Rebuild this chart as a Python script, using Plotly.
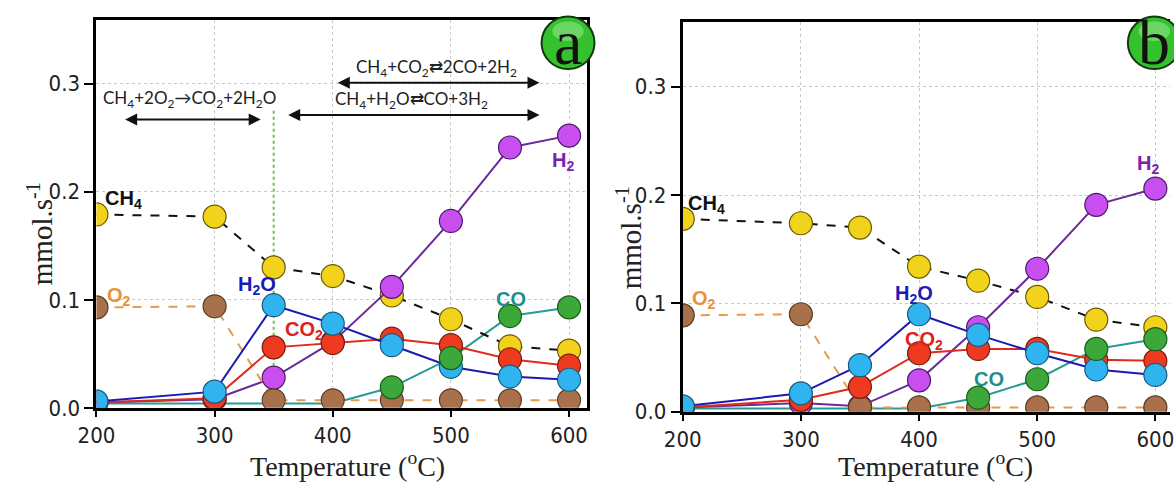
import plotly.graph_objects as go

W, H = 1174, 489

temps = [200, 300, 350, 400, 450, 500, 550, 600]

# Panel (a)
ch4_a = [0.179, 0.177, 0.130, 0.122, 0.104, 0.082, 0.057, 0.053]
o2_a = [0.093, 0.094, 0.007, 0.007, 0.007, 0.007, 0.007, 0.007]
h2o_a = [0.006, 0.015, 0.095, 0.078, 0.058, 0.038, 0.029, 0.026]
co2_a = [0.005, 0.009, 0.056, 0.060, 0.064, 0.058, 0.045, 0.039]
h2_a = [0.005, 0.008, 0.028, 0.061, 0.112, 0.173, 0.241, 0.252]
co_a = [0.004, 0.004, 0.004, 0.004, 0.019, 0.046, 0.085, 0.093]

# Panel (b)
ch4_b = [0.178, 0.174, 0.170, 0.134, 0.121, 0.106, 0.085, 0.078]
o2_b = [0.089, 0.090, 0.004, 0.004, 0.004, 0.004, 0.004, 0.004]
h2o_b = [0.005, 0.017, 0.043, 0.090, 0.071, 0.054, 0.039, 0.034]
co2_b = [0.004, 0.011, 0.023, 0.054, 0.058, 0.058, 0.048, 0.047]
h2_b = [0.004, 0.008, 0.005, 0.029, 0.078, 0.132, 0.191, 0.206]
co_b = [0.003, 0.003, 0.003, 0.003, 0.013, 0.030, 0.058, 0.067]

x_ticks = [200, 300, 400, 500, 600]
y_ticks = [0.0, 0.1, 0.2, 0.3]

def px(x):
    return x / W

def py(y):
    return 1 - y / H

fig = go.Figure()

MS = 23
styles = {
    "CH4": dict(line=dict(color="#111111", width=2, dash="dash"), marker=dict(color="#f2d31b", size=MS, line=dict(color="#6b5a00", width=1.2))),
    "H2": dict(line=dict(color="#6a2a9c", width=2), marker=dict(color="#c84ef0", size=MS, line=dict(color="#4a1a6a", width=1.2))),
    "O2": dict(line=dict(color="#e89a4c", width=2, dash="dash"), marker=dict(color="#a8714c", size=MS, line=dict(color="#5a3a20", width=1.2))),
    "CO2": dict(line=dict(color="#e02a1a", width=2), marker=dict(color="#ee3a1e", size=MS, line=dict(color="#7a1a10", width=1.2))),
    "H2O": dict(line=dict(color="#1c1ab0", width=2), marker=dict(color="#2fb4f0", size=MS, line=dict(color="#1a5a80", width=1.2))),
    "CO": dict(line=dict(color="#2a9a96", width=2), marker=dict(color="#3ca83a", size=MS, line=dict(color="#1a5a1a", width=1.2))),
}

def add_panel(xa, ya, ch4, h2, o2, co2, h2o, co):
    fig.add_trace(go.Scatter(x=temps, y=co, mode="lines", line=styles["CO"]["line"], xaxis=xa, yaxis=ya, showlegend=False))
    for key, vals in [("CH4", ch4), ("H2", h2), ("O2", o2), ("CO2", co2), ("H2O", h2o)]:
        fig.add_trace(go.Scatter(x=temps, y=vals, mode="lines+markers", line=styles[key]["line"],
                                 marker=styles[key]["marker"], xaxis=xa, yaxis=ya, showlegend=False))
    fig.add_trace(go.Scatter(x=temps[4:], y=co[4:], mode="markers", marker=styles["CO"]["marker"],
                             xaxis=xa, yaxis=ya, showlegend=False))

add_panel("x", "y", ch4_a, h2_a, o2_a, co2_a, h2o_a, co_a)
add_panel("x2", "y2", ch4_b, h2_b, o2_b, co2_b, h2o_b, co_b)

tickfont = dict(family="DejaVu Sans Condensed, Liberation Sans Narrow, Arial Narrow, sans-serif", size=22, color="#222")
common_x = dict(tickvals=x_ticks, showgrid=True, gridcolor="#c9c9c9", griddash="dot", gridwidth=1,
                showline=True, linecolor="black", linewidth=3, mirror=True, ticks="outside",
                ticklen=6, tickwidth=2, tickcolor="black", tickfont=tickfont, zeroline=False,
                ticklabeloverflow="allow")
common_y = dict(tickvals=y_ticks, tickformat=".1f", showgrid=True, gridcolor="#c9c9c9", griddash="dot", gridwidth=1,
                showline=True, linecolor="black", linewidth=3, ticks="outside",
                ticklen=9, tickwidth=2, tickcolor="black", tickfont=tickfont, zeroline=False)

fig.update_layout(
    width=W, height=H, margin=dict(l=0, r=0, t=0, b=0),
    paper_bgcolor="white", plot_bgcolor="white",
    xaxis=dict(domain=[px(79), px(579)], range=[200, 614.9], anchor="y", **common_x),
    yaxis=dict(domain=[py(419), py(21)], range=[0, 0.3586], anchor="x", mirror=True, **common_y),
    xaxis2=dict(domain=[px(677), 1.0], range=[200, 612.4], anchor="y2", **common_x),
    yaxis2=dict(domain=[py(423), py(23)], range=[0, 0.3594], anchor="x2", mirror=False, **common_y),
)

# Vertical green dotted line in panel a
fig.add_shape(type="line", xref="x", yref="y", x0=350, x1=350, y0=0.0, y1=0.276,
              line=dict(color="#6cc04a", width=2, dash="dot"), layer="below")

labfont = dict(family="Liberation Sans, Arial, sans-serif", size=20)
labels_a = [
    ("CH<sub>4</sub>", 223, 0.193, "#111111"),
    ("O<sub>2</sub>", 219, 0.103, "#e8923a"),
    ("H<sub>2</sub>O", 336, 0.113, "#1c1ab8"),
    ("CO<sub>2</sub>", 376, 0.072, "#e02020"),
    ("CO", 551, 0.101, "#1f8f8c"),
    ("H<sub>2</sub>", 595, 0.228, "#7a22b0"),
]
labels_b = [
    ("CH<sub>4</sub>", 220, 0.191, "#111111"),
    ("O<sub>2</sub>", 218, 0.104, "#e8923a"),
    ("H<sub>2</sub>O", 396, 0.108, "#1c1ab8"),
    ("CO<sub>2</sub>", 404, 0.066, "#e02020"),
    ("CO", 459, 0.030, "#1f8f8c"),
    ("H<sub>2</sub>", 594, 0.228, "#7a22b0"),
]
for (t, x, y, c) in labels_a:
    fig.add_annotation(text="<b>%s</b>" % t, x=x, y=y, xref="x", yref="y", showarrow=False,
                       xanchor="center", yanchor="middle", font=dict(color=c, **labfont))
for (t, x, y, c) in labels_b:
    fig.add_annotation(text="<b>%s</b>" % t, x=x, y=y, xref="x2", yref="y2", showarrow=False,
                       xanchor="center", yanchor="middle", font=dict(color=c, **labfont))

# Reaction texts and arrows (panel a)
rxfont = dict(family="Lato, Open Sans, sans-serif", size=17, color="#222")
reactions = [
    ("CH<sub>4</sub>+2O<sub>2</sub>→CO<sub>2</sub>+2H<sub>2</sub>O", 279, 0.286),
    ("CH<sub>4</sub>+CO<sub>2</sub>⇄2CO+2H<sub>2</sub>", 488, 0.315),
    ("CH<sub>4</sub>+H<sub>2</sub>O⇄CO+3H<sub>2</sub>", 467, 0.285),
]
for (t, x, y) in reactions:
    fig.add_annotation(text=t, x=x, y=y, xref="x", yref="y", showarrow=False,
                       xanchor="center", yanchor="middle", font=rxfont)

arrows = [(223, 339, 0.267), (403, 575, 0.301), (361, 575, 0.271)]
for (x0, x1, y) in arrows:
    fig.add_annotation(text="", x=x1, y=y, ax=x0, ay=y, xref="x", yref="y", axref="x", ayref="y",
                       showarrow=True, arrowhead=2, arrowside="end+start", arrowsize=1.2,
                       arrowwidth=2, arrowcolor="#111")

# Axis titles
serif = "Liberation Serif, Times New Roman, serif"
for cx in (335, 935):
    fig.add_annotation(text="Temperature (<sup>o</sup>C)", x=px(cx), y=py(477), xref="paper", yref="paper",
                       showarrow=False, xanchor="center", yanchor="middle",
                       font=dict(family=serif, size=28, color="#222"))
for (cx, cy) in ((21, 240), (622, 244)):
    fig.add_annotation(text="mmol.s<sup>-1</sup>", x=px(cx), y=py(cy), xref="paper", yref="paper",
                       showarrow=False, textangle=-90, xanchor="center", yanchor="middle",
                       font=dict(family=serif, size=29, color="#222"))

# Badges
for (cx, cy, letter) in ((560, 44, "a"), (1158, 44, "b")):
    r = 27
    fig.add_shape(type="circle", xref="paper", yref="paper", x0=px(cx - r), x1=px(cx + r),
                  y0=py(cy + r), y1=py(cy - r), fillcolor="#35c02e", line=dict(color="#0f3a0f", width=2))
    fig.add_shape(type="circle", xref="paper", yref="paper", x0=px(cx - 16), x1=px(cx + 16),
                  y0=py(cy - 2), y1=py(cy - 22), fillcolor="rgba(210,255,200,0.35)", line=dict(width=0))
    fig.add_annotation(text=letter, x=px(cx), y=py(cy), xref="paper", yref="paper", showarrow=False,
                       xanchor="center", yanchor="middle",
                       font=dict(family=serif, size=64, color="#111"))

fig.write_html("out.html")
